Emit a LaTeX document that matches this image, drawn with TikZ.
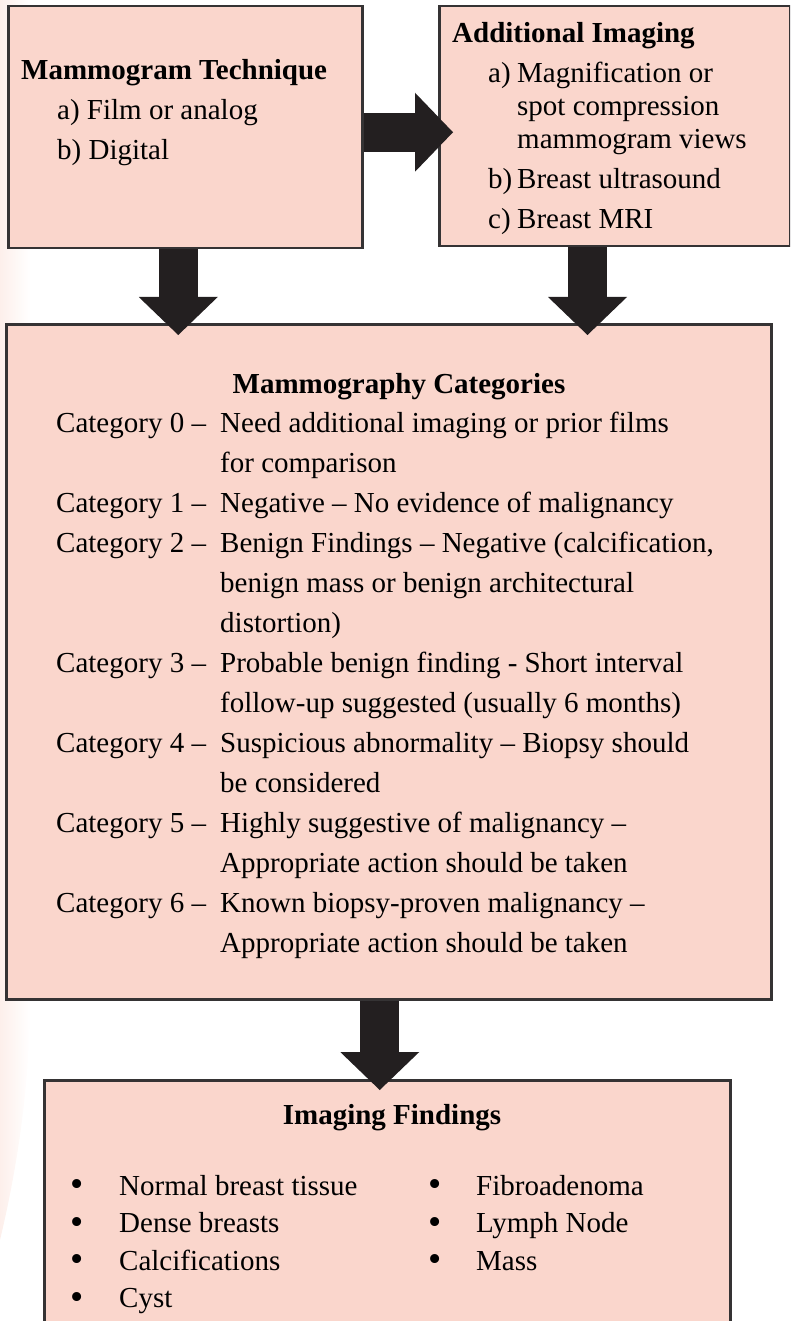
\documentclass[tikz,border=0pt]{standalone}
\usepackage{fontspec}
\setmainfont{Liberation Serif}
\usetikzlibrary{arrows.meta}
\definecolor{boxpink}{HTML}{FAD6CC}
\definecolor{boxline}{HTML}{353334}
\definecolor{arrowblack}{HTML}{231F20}
\definecolor{fadepink}{HTML}{FDEFEB}
\newcommand{\findbullet}{\raisebox{-1.5pt}{\scalebox{1.3}{\textbullet}}}

\begin{document}
\begin{tikzpicture}[x=1pt,y=-1pt,
  panel/.style={draw=boxline,fill=boxpink,line width=2.5pt,inner sep=0pt,anchor=north west},
  txt/.style={inner sep=0pt,anchor=base west,font=\fontsize{29}{40}\selectfont},
  ttl/.style={txt,font=\fontsize{29}{40}\selectfont\bfseries},
  bigarrow/.style={arrowblack,line width=39pt,-{Triangle[length=38pt,width=79pt,line width=0pt]}}]
\useasboundingbox (0,0) rectangle (790,1321);
\clip (0,0) rectangle (790,1321);
\shade[left color=fadepink,right color=white] (0,0) -- (30,0) -- (30,1000) .. controls (30,1100) and (12,1190) .. (0,1240) -- cycle;

\node[panel,minimum width=354pt,minimum height=242pt] (techbox) at (7,5) {};
\node[panel,minimum width=350.5pt,minimum height=240pt] (addbox) at (438,5) {};
\node[panel,minimum width=765pt,minimum height=675pt] (catbox) at (5,323) {};
\node[panel,minimum width=686pt,minimum height=300pt] (findbox) at (43,1079) {};

\draw[bigarrow] ([yshift=-5pt]techbox.east) -- ([xshift=15pt,yshift=-5pt]addbox.west |- techbox.east);
\draw[bigarrow] ([xshift=-7pt]techbox.south) -- ([xshift=-7pt,yshift=-12pt]catbox.north -| techbox.south);
\draw[bigarrow] ([xshift=-27pt]addbox.south) -- ([xshift=-27pt,yshift=-12pt]catbox.north -| addbox.south);
\draw[bigarrow] ([xshift=-9pt]catbox.south) -- ([xshift=-9pt,yshift=-11pt]findbox.north -| catbox.south);

\node[ttl] (techtitle) at (21,80) {Mammogram Technique};
\node[txt] (techlist) at (57,120) {\begin{tabular}[t]{@{}l@{}}
a) Film or analog\\
b) Digital
\end{tabular}};

\node[ttl] (addtitle) at (452,43) {Additional Imaging};
\node[txt,font=\fontsize{29}{33}\selectfont] (addlist) at (488,83) {\begin{tabular}[t]{@{}p{29pt}@{}l@{}}
a) & Magnification or\\
 & spot compression\\
 & mammogram views\\[7pt]
b) & Breast ultrasound\\[7pt]
c) & Breast MRI
\end{tabular}};

\node[ttl,anchor=base] (cattitle) at (399,393) {Mammography Categories};
\node[txt] (catlist) at (56,432) {\begin{tabular}[t]{@{}p{164pt}@{}l@{}}
Category 0 -- & Need additional imaging or prior films\\
 & for comparison\\
Category 1 -- & Negative -- No evidence of malignancy\\
Category 2 -- & Benign Findings -- Negative (calcification,\\
 & benign mass or benign architectural\\
 & distortion)\\
Category 3 -- & Probable benign finding - Short interval\\
 & follow-up suggested (usually 6 months)\\
Category 4 -- & Suspicious abnormality -- Biopsy should\\
 & be considered\\
Category 5 -- & Highly suggestive of malignancy --\\
 & Appropriate action should be taken\\
Category 6 -- & Known biopsy-proven malignancy --\\
 & Appropriate action should be taken
\end{tabular}};

\node[ttl,anchor=base] (findtitle) at (392,1124) {Imaging Findings};
\node[txt,font=\fontsize{29}{37.5}\selectfont] (findleft) at (70,1195) {\begin{tabular}[t]{@{}p{49pt}@{}l@{}}
\findbullet & Normal breast tissue\\
\findbullet & Dense breasts\\
\findbullet & Calcifications\\
\findbullet & Cyst
\end{tabular}};
\node[txt,font=\fontsize{29}{37.5}\selectfont] (findright) at (428,1195) {\begin{tabular}[t]{@{}p{48pt}@{}l@{}}
\findbullet & Fibroadenoma\\
\findbullet & Lymph Node\\
\findbullet & Mass
\end{tabular}};
\end{tikzpicture}
\end{document}
